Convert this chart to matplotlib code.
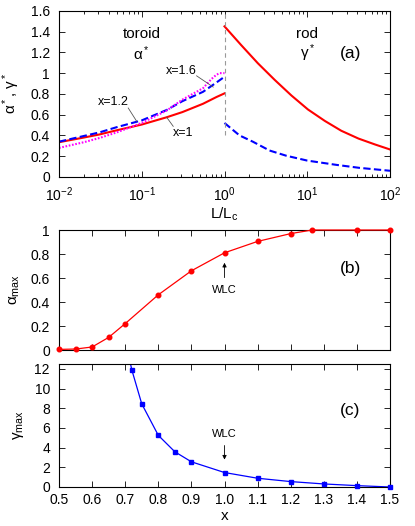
import matplotlib
matplotlib.use("Agg")
import matplotlib.pyplot as plt
from matplotlib.ticker import FixedLocator, FormatStrFormatter, FuncFormatter, LogLocator

plt.rcParams['font.family'] = ['Liberation Sans', 'DejaVu Sans']
plt.rcParams['mathtext.fontset'] = 'custom'
plt.rcParams['mathtext.rm'] = 'Liberation Sans'
plt.rcParams['mathtext.it'] = 'Liberation Sans:italic'
plt.rcParams['mathtext.bf'] = 'Liberation Sans:bold'

# ---------------- data: panel (a) ----------------
L_tor = [0.01, 0.02, 0.031, 0.05, 0.1, 0.2, 0.31, 0.55, 0.8, 1.0]
alpha_x1 = [0.335, 0.38, 0.41, 0.45, 0.505, 0.575, 0.625, 0.705, 0.77, 0.805]
alpha_x12 = [0.34, 0.395, 0.43, 0.48, 0.545, 0.645, 0.73, 0.82, 0.91, 0.965]
L_tor16 = [0.01, 0.02, 0.031, 0.05, 0.1, 0.2, 0.31, 0.55, 0.7, 0.8, 0.88, 1.0]
alpha_x16 = [0.28, 0.335, 0.376, 0.43, 0.52, 0.64, 0.745, 0.855, 0.945, 0.985, 1.0, 1.0]

L_rod = [1, 1.59, 2.53, 4.04, 6.43, 10.2, 16.3, 25.8, 41.6, 66, 100]
gamma_x1 = [1.45, 1.27, 1.095, 0.935, 0.785, 0.65, 0.54, 0.445, 0.37, 0.313, 0.265]
L_rod12 = [1, 1.52, 2.2, 3.5, 5.56, 10, 22.4, 42.7, 100]
gamma_x12 = [0.52, 0.40, 0.34, 0.255, 0.205, 0.158, 0.117, 0.088, 0.06]

# ---------------- data: panel (b) ----------------
x_b = [0.5, 0.55, 0.6, 0.65, 0.7, 0.8, 0.9, 1.0, 1.1, 1.2, 1.265, 1.4, 1.5]
alpha_max = [0.005, 0.008, 0.025, 0.105, 0.22, 0.46, 0.66, 0.81, 0.905, 0.97, 1.0, 1.0, 1.0]

# ---------------- data: panel (c) ----------------
x_c = [0.7, 0.72, 0.75, 0.8, 0.85, 0.9, 1.0, 1.1, 1.2, 1.3, 1.4, 1.5]
gamma_max = [15.0, 11.9, 8.45, 5.25, 3.58, 2.56, 1.47, 0.89, 0.55, 0.31, 0.14, 0.0]

RED = '#ff0000'
BLUE = '#0000ff'
MAG = '#ff00ff'

W, H = 415, 526
fig = plt.figure(figsize=(W / 100, H / 100), dpi=100)

def box(l, r, t, b):
    return [l / W, 1 - b / H, (r - l) / W, (b - t) / H]

axa = fig.add_axes(box(59, 390, 10.8, 177))
axb = fig.add_axes(box(59, 390, 230, 350))
axc = fig.add_axes(box(59, 390, 364, 487))

def style(ax):
    ax.tick_params(which='both', direction='in', top=True, right=True, labelsize=10)
    ax.tick_params(which='major', length=4.5, width=0.6)
    ax.tick_params(which='minor', length=2.5, width=0.6)
    ax.tick_params(axis='y', pad=6.5)
    ax.tick_params(axis='x', pad=4)
    for s in ax.spines.values():
        s.set_linewidth(0.8)

gfmt = FuncFormatter(lambda v, p: ('%g' % round(v, 6)))

# ---------- panel (a) ----------
axa.set_xscale('log')
axa.plot(L_tor, alpha_x1, color=RED, lw=1.5)
axa.plot(L_tor, alpha_x12, color=BLUE, lw=1.5, dashes=(3.5, 1.6))
axa.plot(L_tor16, alpha_x16, color=MAG, lw=1.5, dashes=(0.8, 0.8))
axa.plot(L_rod, gamma_x1, color=RED, lw=1.5)
axa.plot(L_rod12, gamma_x12, color=BLUE, lw=1.5, dashes=(3.5, 1.6))
sep_x, sep_y0, sep_y1 = 1.0, 0.4, 1.6
axa.plot([sep_x, sep_x], [sep_y0, sep_y1], color='#999999', lw=0.8, dashes=(4, 3))
axa.set_xlim(0.01, 100)
axa.set_ylim(0, 1.6)
axa.yaxis.set_major_locator(FixedLocator([0, 0.2, 0.4, 0.6, 0.8, 1.0, 1.2, 1.4, 1.6]))
axa.yaxis.set_major_formatter(gfmt)
axa.xaxis.set_major_locator(LogLocator(base=10, numticks=10))
axa.xaxis.set_minor_locator(LogLocator(base=10, subs=range(2, 10), numticks=100))
style(axa)
axa.tick_params(axis='x', pad=6)
axa.set_xlabel(r'L/L$_\mathregular{c}$', fontsize=11, labelpad=1)
axa.set_ylabel(r'α$^*$, γ$^*$', fontsize=11, labelpad=6)

axa.text(0.1, 1.38, 'toroid', fontsize=11, ha='center', va='center')
axa.text(0.1, 1.19, r'α$^*$', fontsize=11, ha='center', va='center')
axa.text(10, 1.38, 'rod', fontsize=11, ha='center', va='center')
axa.text(10, 1.19, r'γ$^*$', fontsize=11, ha='center', va='center')
axa.text(33, 1.19, '(a)', fontsize=12.5, ha='center', va='center')

lead = dict(color='#555555', lw=0.6)
axa.text(0.30, 1.025, 'x=1.6', fontsize=9, ha='center', va='center')
axa.plot([0.46, 0.73], [0.974, 0.866], **lead)
axa.text(0.045, 0.718, 'x=1.2', fontsize=9, ha='center', va='center')
axa.plot([0.0687, 0.087], [0.664, 0.535], **lead)
axa.text(0.318, 0.424, 'x=1', fontsize=9, ha='center', va='center')
axa.plot([0.24, 0.2], [0.488, 0.575], **lead)

# ---------- panel (b) ----------
axb.plot(x_b, alpha_max, color=RED, lw=0.9, marker='o', ms=3.3, clip_on=False, zorder=3)
axb.set_xlim(0.5, 1.5)
axb.set_ylim(0, 1)
axb.xaxis.set_major_locator(FixedLocator([0.5 + 0.1 * i for i in range(11)]))
axb.yaxis.set_major_locator(FixedLocator([0, 0.2, 0.4, 0.6, 0.8, 1.0]))
axb.yaxis.set_major_formatter(gfmt)
axb.set_xticklabels([])
style(axb)
axb.set_ylabel(r'α$_\mathregular{max}$', fontsize=11, labelpad=6)
axb.text(1.0, 0.5, 'WLC', fontsize=8, ha='center', va='center')
axb.annotate('', xy=(1.0, 0.75), xytext=(1.0, 0.58),
             arrowprops=dict(arrowstyle='-|>', color='black', lw=0.6, mutation_scale=6))
axb.text(1.38, 0.68, '(b)', fontsize=12.5, ha='center', va='center')

# ---------- panel (c) ----------
ylim_c = 12.5
axc.plot(x_c, gamma_max, color=BLUE, lw=0.9)
mx = [a for a, b in zip(x_c, gamma_max) if b <= ylim_c]
my = [b for b in gamma_max if b <= ylim_c]
axc.plot(mx, my, ls='none', color=BLUE, marker='s', ms=3.3, clip_on=False, zorder=3)
axc.set_xlim(0.5, 1.5)
axc.set_ylim(0, ylim_c)
axc.xaxis.set_major_locator(FixedLocator([0.5 + 0.1 * i for i in range(11)]))
axc.xaxis.set_major_formatter(FormatStrFormatter('%.1f'))
axc.yaxis.set_major_locator(FixedLocator([0, 2, 4, 6, 8, 10, 12]))
axc.yaxis.set_major_formatter(gfmt)
style(axc)
axc.set_xlabel('x', fontsize=11, labelpad=2)
axc.set_ylabel(r'γ$_\mathregular{max}$', fontsize=11, labelpad=6)
axc.text(1.0, 5.4, 'WLC', fontsize=8, ha='center', va='center')
axc.annotate('', xy=(1.0, 2.5), xytext=(1.0, 4.5),
             arrowprops=dict(arrowstyle='-|>', color='black', lw=0.6, mutation_scale=6))
axc.text(1.38, 7.8, '(c)', fontsize=12.5, ha='center', va='center')

fig.savefig('out.png', dpi=100)
